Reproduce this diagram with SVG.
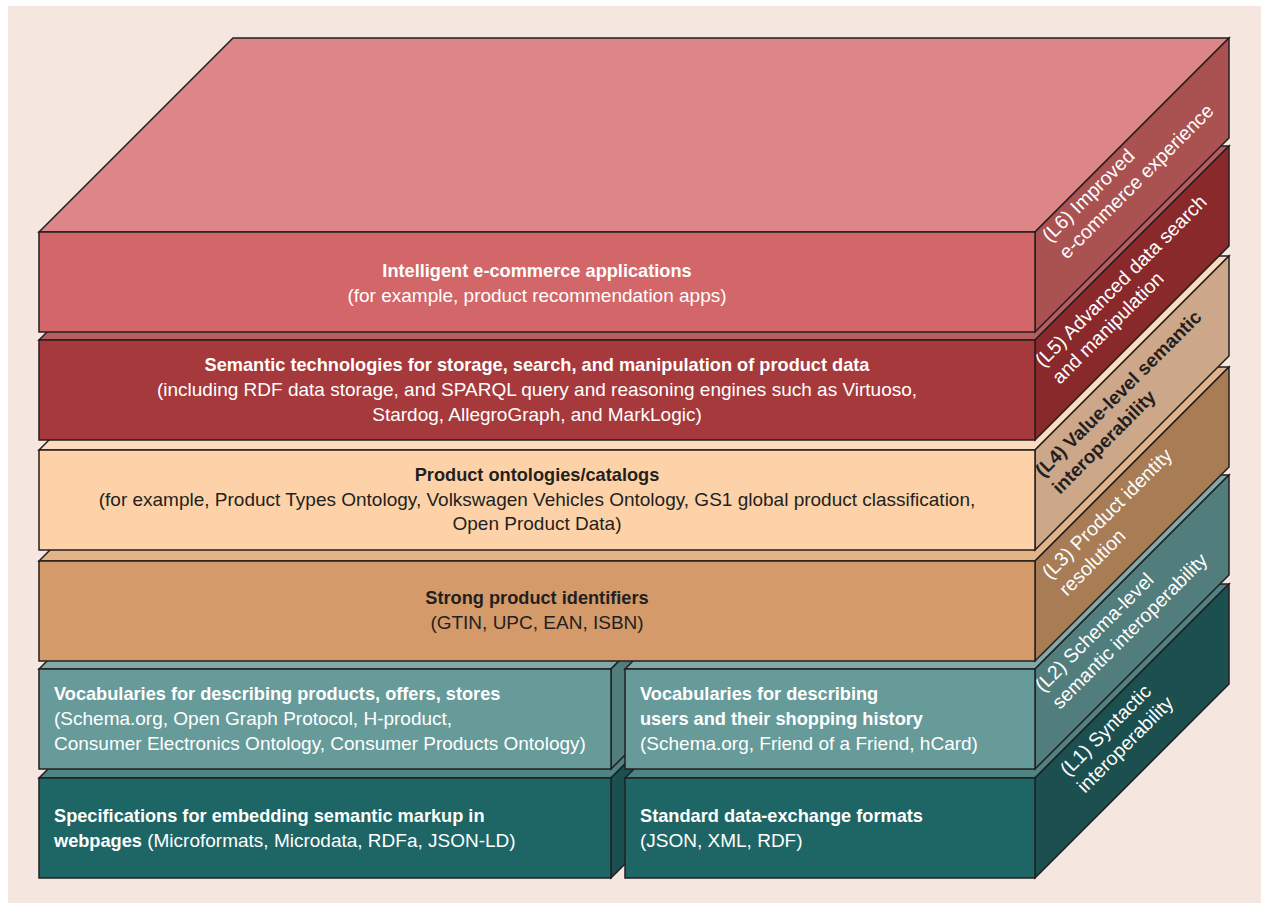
<svg xmlns="http://www.w3.org/2000/svg" width="1261" height="905" viewBox="0 0 1261 905">
  <style>
    .edge { stroke: #231f20; stroke-width: 1.5; stroke-linejoin: miter; }
    .t { font-family: "Liberation Sans", Arial, sans-serif; font-size: 19px; }
    .b { font-weight: bold; font-size: 18.2px; }
    .s { font-size: 19.5px; }
    .s.b { font-size: 19px; }
    .w { fill: #ffffff; }
    .k { fill: #231f20; }
    .mid { text-anchor: middle; }
  </style>

  <!-- backdrop -->
  <rect x="0" y="0" width="1261" height="905" fill="#ffffff"/>
  <rect x="8" y="6" width="1253" height="897" fill="#f5e6df"/>

  <!-- stacked blocks, drawn bottom layer first so upper blocks overlap -->
  <g id="l1-markup">
    <polygon class="edge" fill="#4f8383" points="39,778 233,584 805,584 611,778"/>
    <polygon class="edge" fill="#1b4f50" points="611,778 805,584 805,684 611,878"/>
    <rect class="edge" fill="#1e6565" x="39" y="778" width="572" height="100"/>
    <text class="t w b" x="54" y="822">Specifications for embedding semantic markup in</text>
    <text class="t w" x="54" y="847"><tspan class="b">webpages</tspan> (Microformats, Microdata, RDFa, JSON-LD)</text>
  </g>

  <g id="l1-formats">
    <polygon class="edge" fill="#4f8383" points="625,778 819,584 1229,584 1035,778"/>
    <polygon class="edge" fill="#1b4f50" points="1035,778 1229,584 1229,684 1035,878"/>
    <rect class="edge" fill="#1e6565" x="625" y="778" width="410" height="100"/>
    <text class="t w b" x="640" y="822">Standard data-exchange formats</text>
    <text class="t w" x="640" y="847">(JSON, XML, RDF)</text>
    <text class="t s w" transform="translate(1068,777) rotate(-45)"><tspan x="0" y="0">(L1) Syntactic</tspan><tspan x="0" y="24">interoperability</tspan></text>
  </g>

  <g id="l2-products">
    <polygon class="edge" fill="#80aaa9" points="39,669 233,475 805,475 611,669"/>
    <polygon class="edge" fill="#527d7d" points="611,669 805,475 805,575 611,769"/>
    <rect class="edge" fill="#679b9a" x="39" y="669" width="572" height="100"/>
    <text class="t w b" x="54" y="700">Vocabularies for describing products, offers, stores</text>
    <text class="t w" x="54" y="725">(Schema.org, Open Graph Protocol, H-product,</text>
    <text class="t w" x="54" y="750">Consumer Electronics Ontology, Consumer Products Ontology)</text>
  </g>

  <g id="l2-users">
    <polygon class="edge" fill="#80aaa9" points="625,669 819,475 1229,475 1035,669"/>
    <polygon class="edge" fill="#527d7d" points="1035,669 1229,475 1229,575 1035,769"/>
    <rect class="edge" fill="#679b9a" x="625" y="669" width="410" height="100"/>
    <text class="t w b" x="640" y="700">Vocabularies for describing</text>
    <text class="t w b" x="640" y="725">users and their shopping history</text>
    <text class="t w" x="640" y="750">(Schema.org, Friend of a Friend, hCard)</text>
    <text class="t s w" transform="translate(1043,693) rotate(-45)"><tspan x="0" y="0">(L2) Schema-level</tspan><tspan x="0" y="24">semantic interoperability</tspan></text>
  </g>

  <g id="l3-identifiers">
    <polygon class="edge" fill="#e2b387" points="39,561 233,367 1229,367 1035,561"/>
    <polygon class="edge" fill="#a87c55" points="1035,561 1229,367 1229,467 1035,661"/>
    <rect class="edge" fill="#d49a6a" x="39" y="561" width="996" height="100"/>
    <text class="t k b mid" x="537" y="604">Strong product identifiers</text>
    <text class="t k mid" x="537" y="629">(GTIN, UPC, EAN, ISBN)</text>
    <text class="t s w" transform="translate(1050,580) rotate(-45)"><tspan x="0" y="0">(L3) Product identity</tspan><tspan x="0" y="24">resolution</tspan></text>
  </g>

  <g id="l4-ontologies">
    <polygon class="edge" fill="#fcdcbe" points="39,450 233,256 1229,256 1035,450"/>
    <polygon class="edge" fill="#cca789" points="1035,450 1229,256 1229,356 1035,550"/>
    <rect class="edge" fill="#fdd2a8" x="39" y="450" width="996" height="100"/>
    <text class="t k b mid" x="537" y="481">Product ontologies/catalogs</text>
    <text class="t k mid" x="537" y="506">(for example, Product Types Ontology, Volkswagen Vehicles Ontology, GS1 global product classification,</text>
    <text class="t k mid" x="537" y="530">Open Product Data)</text>
    <text class="t s k b" transform="translate(1043,478) rotate(-45)"><tspan x="0" y="0">(L4) Value-level semantic</tspan><tspan x="0" y="24">interoperability</tspan></text>
  </g>

  <g id="l5-semantic-tech">
    <polygon class="edge" fill="#b65d5e" points="39,340 233,146 1229,146 1035,340"/>
    <polygon class="edge" fill="#89292c" points="1035,340 1229,146 1229,246 1035,440"/>
    <rect class="edge" fill="#a6393b" x="39" y="340" width="996" height="100"/>
    <text class="t w b mid" x="537" y="371">Semantic technologies for storage, search, and manipulation of product data</text>
    <text class="t w mid" x="537" y="396">(including RDF data storage, and SPARQL query and reasoning engines such as Virtuoso,</text>
    <text class="t w mid" x="537" y="421">Stardog, AllegroGraph, and MarkLogic)</text>
    <text class="t s w" transform="translate(1043,368) rotate(-45)"><tspan x="0" y="0">(L5) Advanced data search</tspan><tspan x="0" y="24">and manipulation</tspan></text>
  </g>

  <g id="l6-applications">
    <polygon class="edge" fill="#dc8688" points="39,232 233,38 1229,38 1035,232"/>
    <polygon class="edge" fill="#aa5252" points="1035,232 1229,38 1229,138 1035,332"/>
    <rect class="edge" fill="#d26668" x="39" y="232" width="996" height="100"/>
    <text class="t w b mid" x="537" y="277">Intelligent e-commerce applications</text>
    <text class="t w mid" x="537" y="302">(for example, product recommendation apps)</text>
    <text class="t s w" transform="translate(1050,243) rotate(-45)"><tspan x="0" y="0">(L6) Improved</tspan><tspan x="0" y="24">e-commerce experience</tspan></text>
  </g>

  <!-- no connectors in this layered stack -->
  <g id="connectors"/>
</svg>
